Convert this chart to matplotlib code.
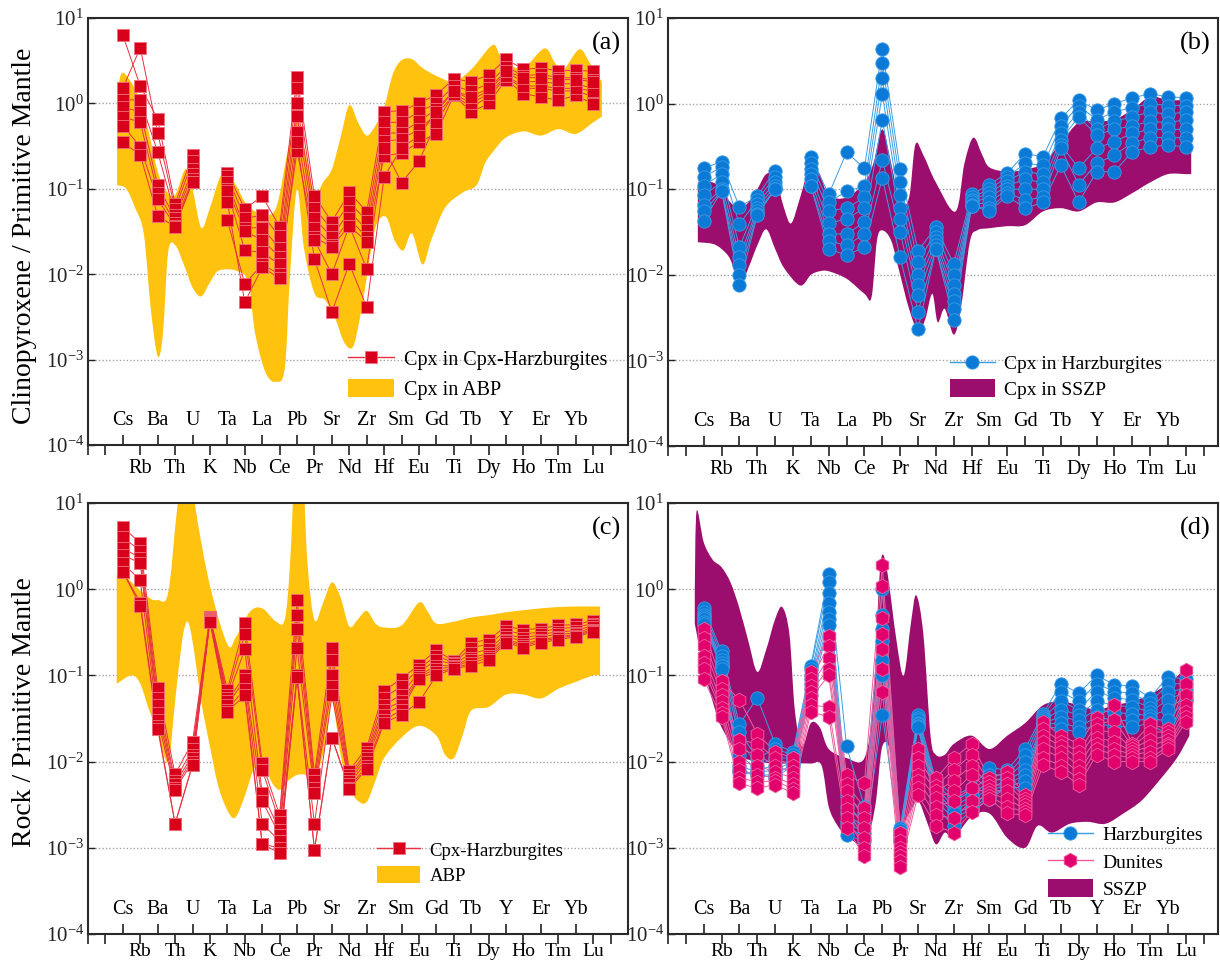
import numpy as np
import matplotlib
matplotlib.use("Agg")
import matplotlib.pyplot as plt
from matplotlib.path import Path
from matplotlib.patches import PathPatch, Patch
from matplotlib.lines import Line2D
from matplotlib.ticker import NullLocator, FixedLocator, LogFormatterMathtext

plt.rcParams['font.family'] = ['Liberation Serif', 'DejaVu Serif']
plt.rcParams['mathtext.fontset'] = 'custom'
plt.rcParams['mathtext.rm'] = 'Liberation Serif'
plt.rcParams['mathtext.it'] = 'Liberation Serif:italic'

nan = np.nan

elements = ['Cs', 'Rb', 'Ba', 'Th', 'U', 'K', 'Ta', 'Nb', 'La', 'Ce', 'Pb', 'Pr', 'Sr', 'Nd',
            'Zr', 'Hf', 'Sm', 'Eu', 'Gd', 'Ti', 'Tb', 'Dy', 'Y', 'Ho', 'Er', 'Tm', 'Yb', 'Lu']

# rows = elements (Cs..Lu), columns = samples
cpx_harz_a = [
    [6.3, 1.5, 1.1, 0.9, 0.7, 0.55, 0.35],
    [1.6, 4.5, 1.1, 0.8, 0.6, 0.31, 0.25],
    [0.65, 0.45, 0.27, 0.11, 0.09, 0.075, 0.048],
    [0.066, 0.058, 0.05, 0.045, 0.04, 0.037, 0.036],
    [0.25, 0.21, 0.17, 0.15, 0.13, 0.12, 0.12],
    [nan, nan, nan, nan, nan, nan, nan],
    [0.155, 0.14, 0.12, 0.1, 0.094, 0.043, 0.07],
    [0.058, 0.045, 0.035, 0.032, 0.019, 0.0077, 0.0047],
    [0.082, 0.049, 0.035, 0.025, 0.018, 0.013, 0.012],
    [0.036, 0.028, 0.02, 0.016, 0.013, 0.01, 0.009],
    [2.05, 1.5, 1.0, 0.71, 0.46, 0.28, 0.35],
    [0.082, 0.06, 0.045, 0.035, 0.027, 0.025, 0.015],
    [0.041, 0.033, 0.027, 0.022, 0.021, 0.01, 0.0036],
    [0.091, 0.07, 0.055, 0.045, 0.037, 0.037, 0.0133],
    [0.054, 0.042, 0.033, 0.027, 0.024, 0.0115, 0.0041],
    [0.8, 0.6, 0.45, 0.36, 0.245, 0.3, 0.138],
    [0.82, 0.6, 0.45, 0.38, 0.26, 0.118, 0.3],
    [1.0, 0.8, 0.62, 0.5, 0.355, 0.21, 0.42],
    [1.27, 1.0, 0.85, 0.74, 0.44, 0.6, 0.8],
    [1.93, 1.6, 1.4, 1.25, 1.25, 1.3, 1.4],
    [1.8, 1.4, 1.1, 0.9, 0.79, 1.0, 1.2],
    [2.15, 1.7, 1.4, 1.2, 1.0, 1.3, 1.5],
    [3.3, 2.7, 2.3, 2.0, 1.9, 2.1, 2.4],
    [2.5, 2.1, 1.8, 1.5, 1.3, 1.6, 2.0],
    [2.6, 2.2, 1.8, 1.5, 1.19, 1.6, 2.0],
    [2.4, 2.0, 1.7, 1.4, 1.09, 1.5, 1.9],
    [2.45, 2.0, 1.7, 1.4, 1.24, 1.5, 1.9],
    [2.37, 1.9, 1.5, 1.2, 0.99, 1.4, 1.8],
]

cpx_harz_b = [
    [0.176, 0.14, 0.11, 0.085, 0.065, 0.055, 0.043],
    [0.21, 0.18, 0.15, 0.12, 0.1, 0.095, 0.095],
    [0.062, 0.039, 0.021, 0.016, 0.013, 0.01, 0.0075],
    [0.083, 0.075, 0.068, 0.06, 0.055, 0.051, 0.05],
    [0.165, 0.14, 0.12, 0.11, 0.1, 0.1, 0.1],
    [nan, nan, nan, nan, nan, nan, nan],
    [0.24, 0.2, 0.17, 0.15, 0.13, 0.11, 0.108],
    [0.087, 0.07, 0.056, 0.04, 0.03, 0.025, 0.02],
    [0.27, 0.095, 0.06, 0.045, 0.03, 0.022, 0.017],
    [0.176, 0.108, 0.08, 0.06, 0.041, 0.03, 0.021],
    [4.4, 3.0, 2.0, 1.3, 0.65, 0.22, 0.135],
    [0.17, 0.12, 0.085, 0.06, 0.045, 0.032, 0.016],
    [0.019, 0.014, 0.01, 0.0075, 0.0058, 0.0037, 0.0023],
    [0.036, 0.032, 0.028, 0.025, 0.022, 0.02, 0.02],
    [0.0134, 0.01, 0.0075, 0.006, 0.005, 0.004, 0.003],
    [0.087, 0.08, 0.075, 0.07, 0.066, 0.063, 0.063],
    [0.113, 0.1, 0.09, 0.08, 0.07, 0.06, 0.056],
    [0.155, 0.14, 0.125, 0.11, 0.1, 0.09, 0.083],
    [0.26, 0.2, 0.16, 0.13, 0.1, 0.075, 0.06],
    [0.24, 0.19, 0.15, 0.12, 0.1, 0.08, 0.07],
    [0.67, 0.55, 0.45, 0.38, 0.33, 0.3, 0.19],
    [1.1, 0.95, 0.8, 0.7, 0.176, 0.113, 0.07],
    [0.84, 0.65, 0.5, 0.43, 0.3, 0.2, 0.16],
    [1.0, 0.8, 0.62, 0.5, 0.36, 0.25, 0.16],
    [1.17, 0.9, 0.7, 0.55, 0.45, 0.35, 0.275],
    [1.3, 1.0, 0.8, 0.62, 0.5, 0.4, 0.31],
    [1.2, 0.95, 0.75, 0.6, 0.5, 0.4, 0.33],
    [1.17, 0.95, 0.8, 0.65, 0.5, 0.4, 0.31],
]

rock_harz_c = [
    [5.3, 4.0, 3.0, 2.5, 2.0, 1.6, 1.6],
    [3.4, 2.8, 2.3, 2.0, 1.27, 0.7, 0.64],
    [0.071, 0.055, 0.045, 0.037, 0.03, 0.026, 0.024],
    [0.0071, 0.006, 0.0055, 0.005, 0.0047, 0.0019, 0.0019],
    [0.017, 0.014, 0.012, 0.011, 0.01, 0.0092, 0.0091],
    [0.48, 0.47, 0.46, 0.45, 0.44, 0.43, 0.42],
    [0.068, 0.06, 0.055, 0.05, 0.045, 0.04, 0.038],
    [0.41, 0.3, 0.2, 0.1, 0.09, 0.07, 0.059],
    [0.0096, 0.008, 0.0043, 0.0035, 0.0019, 0.0011, 0.0011],
    [0.0024, 0.002, 0.0016, 0.0014, 0.0012, 0.001, 0.00087],
    [0.75, 0.5, 0.35, 0.21, 0.1, 0.097, 0.095],
    [0.0071, 0.006, 0.005, 0.0043, 0.0019, 0.00095, 0.00095],
    [0.21, 0.15, 0.1, 0.075, 0.059, 0.019, 0.019],
    [0.0078, 0.007, 0.0065, 0.006, 0.0055, 0.005, 0.0048],
    [0.0145, 0.013, 0.012, 0.011, 0.01, 0.009, 0.0083],
    [0.066, 0.055, 0.045, 0.04, 0.035, 0.03, 0.028],
    [0.092, 0.075, 0.06, 0.05, 0.045, 0.04, 0.035],
    [0.132, 0.12, 0.11, 0.1, 0.095, 0.092, 0.049],
    [0.196, 0.17, 0.15, 0.13, 0.12, 0.11, 0.1],
    [0.146, 0.14, 0.135, 0.13, 0.125, 0.12, 0.12],
    [0.24, 0.21, 0.18, 0.16, 0.15, 0.14, 0.13],
    [0.26, 0.23, 0.2, 0.18, 0.17, 0.16, 0.15],
    [0.37, 0.33, 0.3, 0.28, 0.26, 0.25, 0.24],
    [0.34, 0.3, 0.27, 0.25, 0.23, 0.22, 0.21],
    [0.35, 0.32, 0.3, 0.28, 0.26, 0.25, 0.24],
    [0.38, 0.35, 0.32, 0.3, 0.28, 0.27, 0.26],
    [0.39, 0.36, 0.33, 0.31, 0.3, 0.29, 0.28],
    [0.43, 0.4, 0.38, 0.36, 0.34, 0.33, 0.32],
]

rock_harz_d = [
    [0.6, 0.55, 0.5, 0.47, 0.45, 0.42, 0.4],
    [0.19, 0.17, 0.15, 0.14, 0.13, 0.13, 0.12],
    [0.027, 0.022, 0.018, 0.012, 0.009, 0.008, 0.0075],
    [0.055, 0.011, 0.009, 0.008, 0.0075, 0.007, 0.007],
    [0.016, 0.014, 0.011, 0.009, 0.008, 0.007, 0.0065],
    [0.013, 0.012, 0.011, 0.0105, 0.01, 0.0095, 0.009],
    [0.13, 0.12, 0.1, 0.09, 0.08, 0.07, 0.06],
    [1.5, 1.2, 0.9, 0.7, 0.55, 0.45, 0.38],
    [0.015, 0.004, 0.003, 0.0025, 0.002, 0.0018, 0.0014],
    [0.003, 0.0025, 0.002, 0.0017, 0.0015, 0.0013, 0.0012],
    [1.0, 0.5, 0.35, 0.25, 0.15, 0.1, 0.035],
    [0.0017, 0.0016, 0.0015, 0.0014, 0.0013, 0.0012, 0.0012],
    [0.035, 0.032, 0.03, 0.028, 0.027, 0.026, 0.025],
    [0.006, 0.0055, 0.005, 0.0045, 0.004, 0.0035, 0.003],
    [0.004, 0.0035, 0.003, 0.0027, 0.0025, 0.0022, 0.0018],
    [0.005, 0.0045, 0.004, 0.0035, 0.003, 0.0028, 0.0027],
    [0.0085, 0.007, 0.006, 0.005, 0.0045, 0.004, 0.0037],
    [0.008, 0.007, 0.0065, 0.006, 0.0055, 0.005, 0.005],
    [0.014, 0.012, 0.01, 0.008, 0.007, 0.006, 0.005],
    [0.036, 0.034, 0.032, 0.03, 0.028, 0.027, 0.026],
    [0.08, 0.065, 0.05, 0.04, 0.033, 0.028, 0.024],
    [0.062, 0.05, 0.04, 0.035, 0.03, 0.025, 0.022],
    [0.1, 0.08, 0.065, 0.05, 0.04, 0.033, 0.027],
    [0.078, 0.065, 0.055, 0.045, 0.037, 0.03, 0.026],
    [0.075, 0.062, 0.052, 0.043, 0.036, 0.03, 0.025],
    [0.055, 0.048, 0.042, 0.038, 0.034, 0.031, 0.028],
    [0.097, 0.08, 0.065, 0.052, 0.04, 0.03, 0.02],
    [0.09, 0.08, 0.07, 0.065, 0.058, 0.053, 0.05],
]

rock_dun_d = [
    [0.35, 0.27, 0.22, 0.17, 0.14, 0.12, 0.09],
    [0.085, 0.07, 0.06, 0.05, 0.042, 0.037, 0.033],
    [0.052, 0.018, 0.014, 0.01, 0.008, 0.0065, 0.0056],
    [0.021, 0.016, 0.012, 0.009, 0.007, 0.0058, 0.0049],
    [0.013, 0.011, 0.009, 0.0075, 0.0065, 0.006, 0.0054],
    [0.011, 0.009, 0.0075, 0.0065, 0.0055, 0.0048, 0.0043],
    [0.11, 0.09, 0.075, 0.065, 0.055, 0.045, 0.038],
    [0.29, 0.22, 0.16, 0.12, 0.1, 0.043, 0.033],
    [0.007, 0.0055, 0.0045, 0.0035, 0.0028, 0.0022, 0.0017],
    [0.0056, 0.0029, 0.0022, 0.0017, 0.0013, 0.001, 0.0008],
    [1.9, 1.1, 0.46, 0.3, 0.2, 0.12, 0.065],
    [0.0015, 0.0012, 0.001, 0.0009, 0.0008, 0.0007, 0.0006],
    [0.014, 0.011, 0.009, 0.007, 0.006, 0.005, 0.0041],
    [0.0064, 0.0052, 0.0045, 0.0038, 0.003, 0.0024, 0.0018],
    [0.011, 0.008, 0.006, 0.0045, 0.0035, 0.0022, 0.0015],
    [0.016, 0.012, 0.009, 0.007, 0.005, 0.0035, 0.0026],
    [0.0064, 0.0058, 0.0052, 0.0047, 0.0043, 0.004, 0.0037],
    [0.0076, 0.0065, 0.0055, 0.0045, 0.0037, 0.003, 0.0025],
    [0.0041, 0.0037, 0.0034, 0.0031, 0.0028, 0.0026, 0.0024],
    [0.029, 0.024, 0.02, 0.017, 0.014, 0.011, 0.0091],
    [0.02, 0.017, 0.015, 0.013, 0.011, 0.009, 0.0076],
    [0.016, 0.013, 0.011, 0.009, 0.0075, 0.0063, 0.0054],
    [0.032, 0.027, 0.023, 0.019, 0.016, 0.014, 0.012],
    [0.045, 0.03, 0.022, 0.017, 0.014, 0.012, 0.01],
    [0.016, 0.015, 0.014, 0.013, 0.012, 0.011, 0.01],
    [0.027, 0.022, 0.018, 0.015, 0.013, 0.011, 0.01],
    [0.024, 0.022, 0.02, 0.018, 0.016, 0.015, 0.014],
    [0.115, 0.08, 0.06, 0.045, 0.038, 0.033, 0.029],
]

# shaded reference fields: (position on element axis, value) of upper and lower outline
abp_cpx_up_x = [-0.33, -0.1, 0.3, 1, 1.5, 2, 2.5, 3, 3.6, 4.0, 4.5, 5.0, 5.6, 6, 6.5, 7, 7.5, 8, 8.8, 9.5,
                10, 10.5, 11, 11.5, 12, 12.5, 13, 13.5, 14, 14.5, 15, 15.5, 16, 16.6, 17.2, 18, 19, 20,
                21.2, 21.6, 22, 23, 24.2, 24.8, 25.3, 26.2, 26.8, 27.2, 27.5]
abp_cpx_up_y = [1.2, 2.2, 2.0, 1.1, 0.45, 0.16, 0.095, 0.085, 0.17, 0.1, 0.035, 0.06, 0.14, 0.15, 0.11, 0.07,
                0.056, 0.05, 0.06, 0.3, 0.65, 0.25, 0.085, 0.12, 0.17, 0.4, 0.95, 0.6, 0.42, 0.55, 0.9, 2.2,
                3.2, 3.3, 2.6, 2.1, 1.8, 2.5, 4.8, 3.8, 3.0, 2.6, 4.4, 3.0, 2.5, 4.3, 3.0, 2.2, 1.8]
abp_cpx_lo_x = [-0.33, 0.2, 0.7, 1.2, 1.6, 2.0, 2.3, 2.6, 3.0, 3.5, 4.0, 4.5, 5.0, 5.5, 6.5, 7.2, 7.6, 8.2,
                8.8, 9.3, 9.6, 10, 10.4, 11, 11.6, 12.2, 12.7, 13.2, 13.6, 14, 14.5, 15.1, 15.6, 16.1,
                16.6, 17.2, 17.7, 18.5, 19.5, 20.3, 20.8, 21.3, 22, 23, 24, 25, 26, 27, 27.5]
abp_cpx_lo_y = [0.11, 0.1, 0.06, 0.03, 0.004, 0.0011, 0.002, 0.018, 0.022, 0.013, 0.007, 0.0055, 0.008,
                0.011, 0.011, 0.008, 0.002, 0.0007, 0.00055, 0.0008, 0.01, 0.1, 0.02, 0.006, 0.005, 0.003,
                0.0016, 0.0014, 0.003, 0.009, 0.035, 0.047, 0.025, 0.019, 0.03, 0.013, 0.025, 0.06, 0.09,
                0.11, 0.2, 0.28, 0.4, 0.47, 0.42, 0.5, 0.44, 0.6, 0.7]

sszp_cpx_up_x = [-0.33, 0.5, 1, 1.5, 2, 2.5, 3, 3.5, 4, 4.5, 4.9, 5.4, 6, 6.5, 7, 8, 9, 9.5, 10, 10.5, 11,
                 11.5, 11.85, 12.3, 13, 14.1, 14.6, 15.1, 15.6, 16, 17, 18, 19, 20, 21, 22, 23, 24, 25,
                 26, 27, 27.3]
sszp_cpx_up_y = [0.12, 0.12, 0.1, 0.07, 0.06, 0.07, 0.1, 0.15, 0.14, 0.06, 0.04, 0.08, 0.2, 0.15, 0.085,
                 0.08, 0.12, 0.2, 0.5, 0.2, 0.07, 0.08, 0.33, 0.25, 0.12, 0.055, 0.2, 0.4, 0.25, 0.18,
                 0.16, 0.17, 0.2, 0.35, 0.6, 0.62, 0.65, 0.85, 1.2, 1.1, 1.1, 1.1]
sszp_cpx_lo_x = [-0.33, 0.5, 1, 1.5, 2, 2.5, 3, 3.5, 4, 4.5, 5.4, 6, 6.5, 7, 8, 9, 9.4, 9.7, 10, 10.5,
                 11, 11.5, 12, 12.4, 12.8, 13.1, 13.5, 14, 14.4, 14.9, 15.3, 16, 17, 18, 19, 20, 21, 22,
                 23, 24, 25, 26, 27, 27.3]
sszp_cpx_lo_y = [0.024, 0.023, 0.02, 0.015, 0.0075, 0.012, 0.022, 0.034, 0.02, 0.012, 0.0075, 0.01,
                 0.011, 0.011, 0.009, 0.006, 0.0055, 0.025, 0.033, 0.025, 0.01, 0.004, 0.0022, 0.003,
                 0.006, 0.0028, 0.004, 0.002, 0.004, 0.024, 0.033, 0.035, 0.037, 0.038, 0.055, 0.06,
                 0.055, 0.07, 0.07, 0.09, 0.12, 0.15, 0.15, 0.15]

abp_rock_up_x = [-0.35, 0, 0.5, 1.5, 2, 2.6, 3.1, 3.5, 3.9, 4.2, 5.0, 6.0, 6.5, 7.3, 8, 8.8, 9.3, 9.6,
                 9.9, 10.3, 10.6, 11.0, 11.5, 12, 12.5, 13, 13.5, 14, 14.5, 15, 16, 17, 17.5, 18, 19,
                 20, 21, 22, 23, 24, 25, 26, 27, 27.4]
abp_rock_up_y = [1.5, 1.6, 1.2, 0.8, 0.75, 0.9, 8, 30, 30, 8, 1.1, 0.23, 0.28, 0.55, 0.6, 0.42, 0.45,
                 2.0, 30, 30, 2.0, 0.44, 0.7, 1.2, 0.8, 0.37, 0.45, 0.56, 0.4, 0.36, 0.38, 0.7, 0.55,
                 0.4, 0.42, 0.47, 0.5, 0.54, 0.57, 0.6, 0.62, 0.63, 0.63, 0.63]
abp_rock_lo_x = [-0.35, 0.5, 1, 1.5, 2, 2.6, 3.0, 3.4, 3.7, 4.0, 4.5, 5, 5.5, 6.1, 6.5, 7, 7.5, 8, 8.5,
                 9, 9.5, 10, 10.5, 11, 11.6, 12, 12.5, 13, 13.5, 14, 14.5, 15, 16, 17, 18, 18.5, 19,
                 19.5, 20, 21, 22, 23, 24, 25, 26, 27, 27.4]
abp_rock_lo_y = [0.08, 0.1, 0.08, 0.04, 0.022, 0.01, 0.05, 0.25, 0.42, 0.25, 0.05, 0.015, 0.005, 0.0025,
                 0.0023, 0.004, 0.008, 0.011, 0.006, 0.0047, 0.006, 0.007, 0.007, 0.006, 0.015, 0.05,
                 0.012, 0.005, 0.0035, 0.0034, 0.006, 0.011, 0.019, 0.026, 0.02, 0.012, 0.011, 0.02,
                 0.039, 0.043, 0.06, 0.06, 0.054, 0.07, 0.084, 0.1, 0.1]

sszp_rock_up_x = [-0.5, -0.4, 0, 0.5, 1, 1.5, 2, 2.5, 3, 3.5, 4, 4.4, 4.8, 5.1, 5.5, 6, 6.5, 7, 8, 9,
                  9.5, 9.8, 10, 10.3, 10.8, 11.2, 11.6, 11.9, 12.3, 12.7, 13, 13.5, 14, 15, 16, 17, 18,
                  19, 20, 21, 22, 23, 24, 25, 26, 27, 27.2]
sszp_rock_up_y = [1.0, 8.0, 3.5, 2.2, 1.8, 1.2, 0.6, 0.25, 0.11, 0.2, 0.45, 0.62, 0.3, 0.04, 0.015,
                  0.028, 0.025, 0.014, 0.011, 0.011, 0.05, 1.0, 2.5, 1.5, 0.25, 0.1, 0.4, 0.85, 0.3,
                  0.02, 0.012, 0.012, 0.016, 0.02, 0.014, 0.02, 0.028, 0.045, 0.05, 0.045, 0.04, 0.045,
                  0.05, 0.06, 0.08, 0.12, 0.13]
sszp_rock_lo_x = [-0.5, 0, 0.5, 1, 2, 3, 4, 5, 6, 6.6, 7, 7.5, 8, 9, 9.6, 10, 10.5, 11, 11.5, 12, 12.5,
                  13, 13.5, 14, 15, 16, 17, 18, 18.7, 19.5, 20.5, 21.5, 22.5, 23.5, 24.5, 25.5, 26.5,
                  27.2]
sszp_rock_lo_y = [0.4, 0.12, 0.05, 0.025, 0.012, 0.01, 0.0095, 0.0095, 0.0095, 0.009, 0.003, 0.0018,
                  0.0014, 0.0011, 0.003, 0.015, 0.012, 0.002, 0.0025, 0.0035, 0.002, 0.0011, 0.0015,
                  0.0013, 0.0023, 0.0025, 0.0013, 0.001, 0.0018, 0.0015, 0.0019, 0.002, 0.0019, 0.0025,
                  0.0035, 0.006, 0.011, 0.02]

RED = '#D9001B'
RED_LINE = '#E8303F'
BLUE = '#0A7AD6'
BLUE_LINE = '#3A9EE6'
PINK = '#E2006C'
PINK_LINE = '#F25C9C'
YELLOW = '#FFC20E'
PURPLE = '#9C0E6E'


def spline_segments(pts):
    # catmull-rom through the points, returned as cubic bezier control points
    n = len(pts)
    out = []
    for i in range(n - 1):
        p0 = pts[max(i - 1, 0)]
        p1 = pts[i]
        p2 = pts[i + 1]
        p3 = pts[min(i + 2, n - 1)]
        out += [p1 + (p2 - p0) / 6.0, p2 - (p3 - p1) / 6.0, p2]
    return out


def add_field(ax, ux, uy, lx, ly, color):
    up = np.column_stack([ux, np.log10(uy)])
    lo = np.column_stack([lx, np.log10(ly)])[::-1]
    verts = [up[0]]
    codes = [Path.MOVETO]
    seg = spline_segments(up)
    verts += seg
    codes += [Path.CURVE4] * len(seg)
    verts.append(lo[0])
    codes.append(Path.LINETO)
    seg = spline_segments(lo)
    verts += seg
    codes += [Path.CURVE4] * len(seg)
    verts.append(up[0])
    codes.append(Path.CLOSEPOLY)
    v = np.array(verts, dtype=float)
    v[:, 1] = 10 ** v[:, 1]
    ax.add_patch(PathPatch(Path(v, codes), facecolor=color, edgecolor='none', zorder=1))


def add_samples(ax, table, marker, ms, mfc, mec, lc):
    vals = np.array(table, dtype=float)
    x = np.arange(len(elements))
    for j in range(vals.shape[1]):
        ax.plot(x, vals[:, j], '-', color=lc, lw=0.7, zorder=2)
    for j in range(vals.shape[1]):
        ax.plot(x, vals[:, j], linestyle='none', marker=marker, ms=ms, mfc=mfc, mec=mec,
                mew=0.6, zorder=3)


def setup_axes(ax, xmax, tag, low_y, low_fs):
    ax.set_yscale('log')
    ax.set_ylim(1e-4, 1e1)
    ax.set_xlim(-2, xmax)
    ax.yaxis.set_major_locator(FixedLocator([1e-4, 1e-3, 1e-2, 1e-1, 1e0, 1e1]))
    ax.yaxis.set_major_formatter(LogFormatterMathtext())
    ax.yaxis.set_minor_locator(NullLocator())
    ax.tick_params(axis='y', direction='in', length=5, width=1.0, labelsize=15, pad=3,
                   colors='#222222')
    for g in [1e-3, 1e-2, 1e-1, 1e0]:
        ax.axhline(g, color='#a9a3a6', lw=1.0, ls=(0, (1, 1.5)), zorder=0.5)
    top_idx = list(range(0, 28, 2))
    bot_idx = [-2, -1] + list(range(1, 28, 2)) + [28]
    ax.xaxis.set_major_locator(FixedLocator(top_idx))
    ax.xaxis.set_minor_locator(FixedLocator(bot_idx))
    ax.tick_params(axis='x', which='major', direction='in', length=7, width=1.2,
                   labelbottom=False, colors='#222222')
    ax.tick_params(axis='x', which='minor', direction='out', length=7, width=1.2,
                   labelbottom=False, colors='#222222')
    tr = ax.get_xaxis_transform()
    for i, el in enumerate(elements):
        if i % 2 == 0:
            ax.text(i, 0.057, el, transform=tr, ha='center', va='center', fontsize=14.5)
        else:
            ax.text(i, low_y, el, transform=tr, ha='center', va='center', fontsize=low_fs,
                    clip_on=False)
    for s in ax.spines.values():
        s.set_linewidth(1.5)
        s.set_color('#2a2a2a')
    ax.text(0.987, 0.94, tag, transform=ax.transAxes, ha='right', va='center', fontsize=19)


W, H = 1220, 964
fig = plt.figure(figsize=(W / 100, H / 100), dpi=100)


def px_axes(l, r, t, b):
    return fig.add_axes([l / W, 1 - b / H, (r - l) / W, (b - t) / H])


ax_a = px_axes(88, 628, 18, 445)
ax_b = px_axes(668, 1218, 18, 446)
ax_c = px_axes(88, 628, 503, 934)
ax_d = px_axes(668, 1218, 503, 934)

sq = dict(marker='s', ms=8.6, mfc=RED, mec='#F0707C', lc=RED_LINE)
ci = dict(marker='o', ms=9.6, mfc=BLUE, mec='#3C9BE8', lc=BLUE_LINE)
hx = dict(marker='h', ms=10.5, mfc=PINK, mec='#F060A0', lc=PINK_LINE)

# (a)
add_field(ax_a, abp_cpx_up_x, abp_cpx_up_y, abp_cpx_lo_x, abp_cpx_lo_y, YELLOW)
add_samples(ax_a, cpx_harz_a, **sq)
setup_axes(ax_a, 29.0, '(a)', -0.054, 14.5)

# (b)
add_field(ax_b, sszp_cpx_up_x, sszp_cpx_up_y, sszp_cpx_lo_x, sszp_cpx_lo_y, PURPLE)
add_samples(ax_b, cpx_harz_b, **ci)
setup_axes(ax_b, 28.8, '(b)', -0.054, 14.5)

# (c)
add_field(ax_c, abp_rock_up_x, abp_rock_up_y, abp_rock_lo_x, abp_rock_lo_y, YELLOW)
add_samples(ax_c, rock_harz_c, **sq)
setup_axes(ax_c, 29.0, '(c)', -0.041, 14)

# (d)
add_field(ax_d, sszp_rock_up_x, sszp_rock_up_y, sszp_rock_lo_x, sszp_rock_lo_y, PURPLE)
add_samples(ax_d, rock_harz_d, **ci)
add_samples(ax_d, rock_dun_d, **hx)
setup_axes(ax_d, 28.8, '(d)', -0.041, 14)


def line_handle(st):
    return Line2D([0], [0], color=st['lc'], lw=1.0, marker=st['marker'], ms=st['ms'],
                  mfc=st['mfc'], mec=st['mec'], mew=0.6)


leg_kw = dict(loc='upper left', frameon=False, handlelength=2.3, handleheight=1.0,
              handletextpad=0.5, borderpad=0, borderaxespad=0, bbox_transform=fig.transFigure)

ax_a.legend([line_handle(sq), Patch(facecolor=YELLOW)],
            ['Cpx in Cpx-Harzburgites', 'Cpx in ABP'], fontsize=14.5, labelspacing=0.45,
            bbox_to_anchor=(348 / W, 1 - 349 / H), **leg_kw)
ax_b.legend([line_handle(ci), Patch(facecolor=PURPLE)],
            ['Cpx in Harzburgites', 'Cpx in SSZP'], fontsize=14, labelspacing=0.3,
            bbox_to_anchor=(950 / W, 1 - 354 / H), **leg_kw)
ax_c.legend([line_handle(sq), Patch(facecolor=YELLOW)],
            ['Cpx-Harzburgites', 'ABP'], fontsize=13.5, labelspacing=0.35,
            bbox_to_anchor=(377 / W, 1 - 841 / H), **leg_kw)
ax_d.legend([line_handle(ci), line_handle(hx), Patch(facecolor=PURPLE)],
            ['Harzburgites', 'Dunites', 'SSZP'], fontsize=14, labelspacing=0.4,
            bbox_to_anchor=(1048 / W, 1 - 825 / H), **leg_kw)

fig.text(25 / W, 1 - 236 / H, 'Clinopyroxene / Primitive Mantle', rotation=90,
         ha='center', va='center', fontsize=20)
fig.text(25 / W, 1 - 712 / H, 'Rock / Primitive Mantle', rotation=90,
         ha='center', va='center', fontsize=20)

fig.savefig('out.png', dpi=100)
